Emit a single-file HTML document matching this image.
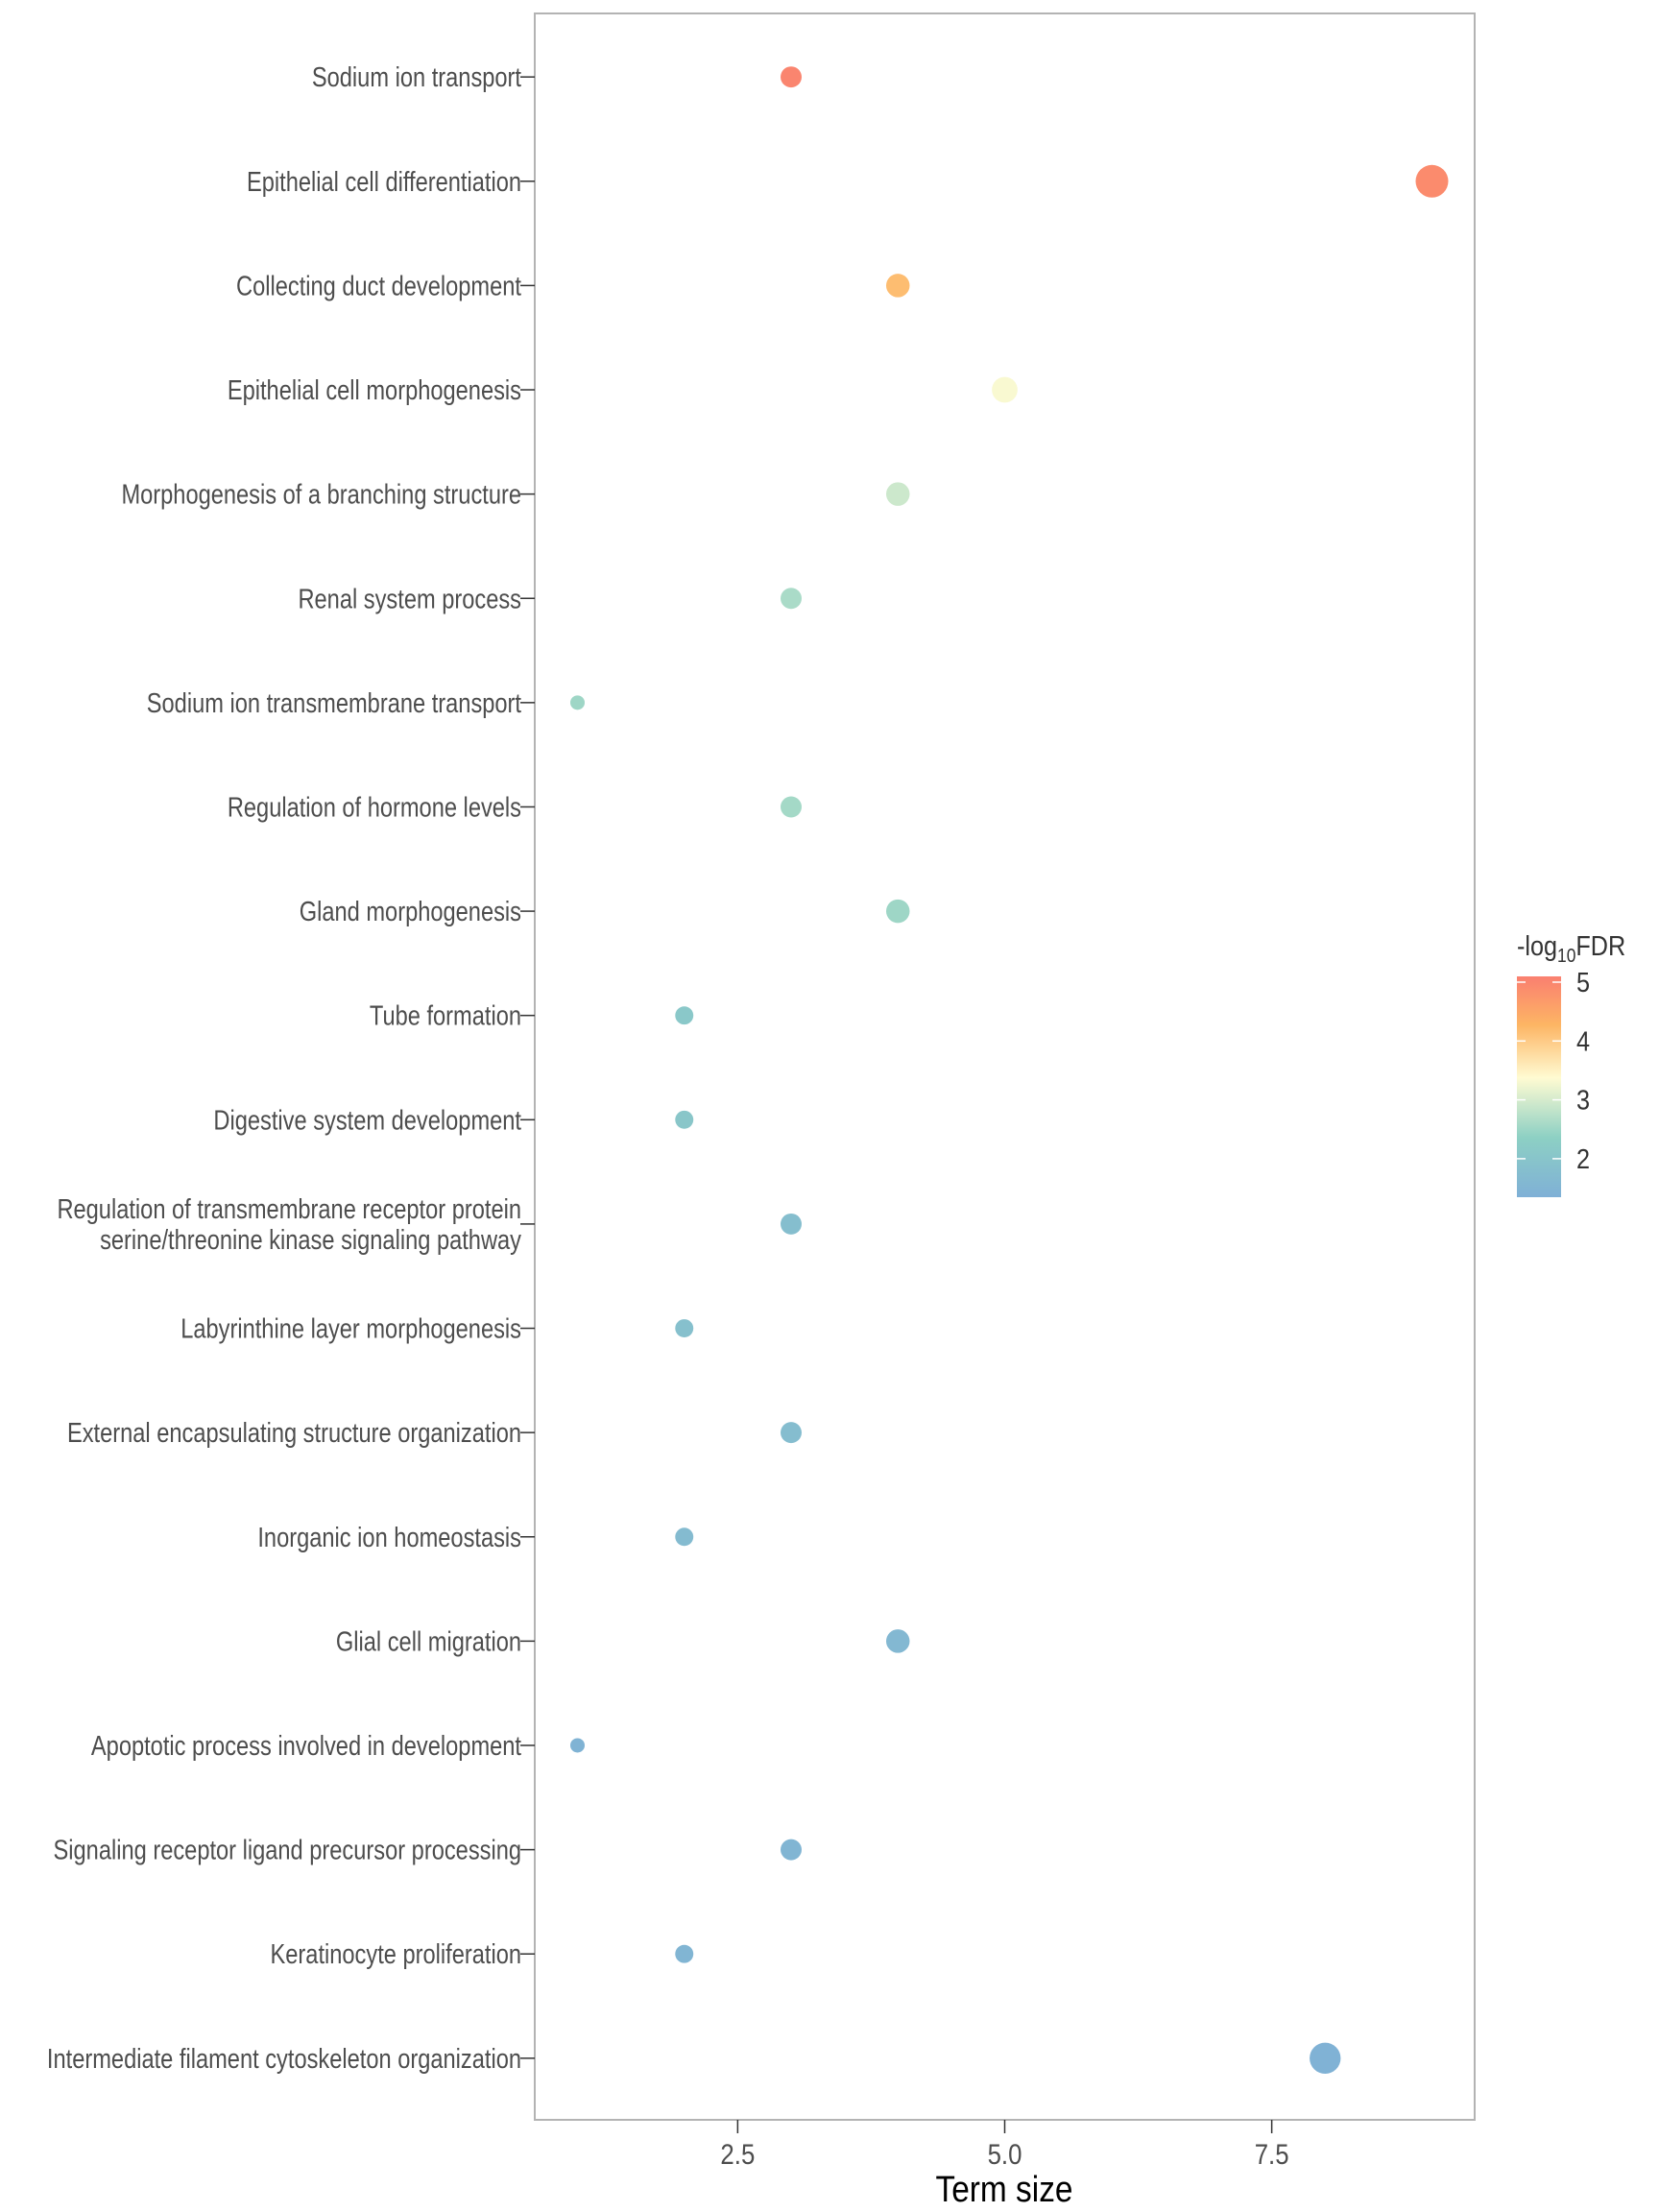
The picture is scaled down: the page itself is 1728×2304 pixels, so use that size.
<!DOCTYPE html>
<html><head><meta charset="utf-8"><style>
body{margin:0;background:#fff}
svg{display:block}
text{font-family:"Liberation Sans Narrow","Liberation Sans",sans-serif}
</style></head><body>
<svg id="chart" width="1728" height="2304" viewBox="0 0 1728 2304" xmlns="http://www.w3.org/2000/svg">
<defs>
<linearGradient id="cb" x1="0" y1="1" x2="0" y2="0">
<stop offset="0" stop-color="#7fb0d6"/>
<stop offset="0.27" stop-color="#8dd0c4"/>
<stop offset="0.54" stop-color="#fffbd2"/>
<stop offset="0.78" stop-color="#fdb564"/>
<stop offset="1" stop-color="#fa7f70"/>
</linearGradient>
</defs>
<rect x="557" y="14" width="979" height="2194" fill="#fff" stroke="#b3b3b3" stroke-width="2"/>
<g id="yaxis"></g><g id="xaxis"></g><g id="points"></g>
<text x="1046" y="2293" text-anchor="middle" font-size="38" fill="#000" transform="translate(1046 0) scale(0.88 1) translate(-1046 0)">Term size</text>
<g>
<text x="1580" y="995" font-size="29" fill="#333" transform="translate(1580 0) scale(0.87 1) translate(-1580 0)">-log<tspan font-size="20" dy="7">10</tspan><tspan dy="-7">FDR</tspan></text>
<rect x="1580" y="1017" width="46" height="230" fill="url(#cb)"/>
<g id="legticks"></g>
</g>
</svg>
<script>
const terms=["Sodium ion transport","Epithelial cell differentiation","Collecting duct development","Epithelial cell morphogenesis","Morphogenesis of a branching structure","Renal system process","Sodium ion transmembrane transport","Regulation of hormone levels","Gland morphogenesis","Tube formation","Digestive system development","Regulation of transmembrane receptor protein|serine/threonine kinase signaling pathway","Labyrinthine layer morphogenesis","External encapsulating structure organization","Inorganic ion homeostasis","Glial cell migration","Apoptotic process involved in development","Signaling receptor ligand precursor processing","Keratinocyte proliferation","Intermediate filament cytoskeleton organization"];
const termSize=[3,9,4,5,4,3,1,3,4,2,2,3,2,3,2,4,1,3,2,8];
const fdr=[5.0,4.9,4.1,3.3,2.9,2.6,2.5,2.55,2.5,2.1,2.05,1.8,1.85,1.75,1.7,1.6,1.45,1.5,1.5,1.4];
const xTicks=[2.5,5.0,7.5];
const xTickLabels=["2.5","5.0","7.5"];
const legTicks=[2,3,4,5];

const NS="http://www.w3.org/2000/svg";
function mk(t,a,p){const e=document.createElementNS(NS,t);for(const k in a)e.setAttribute(k,a[k]);p.appendChild(e);return e;}
const xMin=0.6,xMax=9.4,PL=557,PR=1536;
const xs=v=>PL+(v-xMin)/(xMax-xMin)*(PR-PL);
const PT=14,PH=2194,stepY=PH/(terms.length-1+1.2);
const ys=i=>PT+1+stepY*0.6+i*stepY;
const rs=s=>7.5+(Math.sqrt(s)-1)/2*9.5;
const cStops=[[1.35,[127,176,214]],[2.35,[141,208,196]],[3.35,[255,251,210]],[4.2,[253,181,100]],[5.1,[250,127,112]]];
function col(v){if(v<=cStops[0][0])return cStops[0][1];for(let i=1;i<cStops.length;i++){if(v<=cStops[i][0]){const a=cStops[i-1],b=cStops[i],t=(v-a[0])/(b[0]-a[0]);return a[1].map((c,j)=>Math.round(c+(b[1][j]-c)*t));}}return cStops[cStops.length-1][1];}
const ya=document.getElementById('yaxis');
terms.forEach((t,i)=>{
 const y=ys(i);
 const tk=mk('line',{x1:542,x2:557,y1:y,y2:y,stroke:'#333','stroke-width':1.5},ya);
 
 
 const g=mk('g',{transform:`translate(543 ${y}) scale(0.83 1)`},ya);
 const lines=t.split('|');
 lines.forEach((ln,k)=>{
  const tx=mk('text',{x:0,y:10+(k-(lines.length-1)/2)*32,'text-anchor':'end','font-size':28.5,fill:'#4d4d4d'},g);
  tx.textContent=ln;
  
  
 });
});
const xa=document.getElementById('xaxis');
xTicks.forEach((v,i)=>{
 const x=xs(v);
 const tk=mk('line',{x1:x,x2:x,y1:2208,y2:2222,stroke:'#333','stroke-width':1.5},xa);
 
 
 const tx=mk('text',{x:x,y:2254,'text-anchor':'middle','font-size':30,fill:'#4d4d4d',transform:`translate(${x} 0) scale(0.86 1) translate(${-x} 0)`},xa);
 tx.textContent=xTickLabels[i];
 
 
});
const pg=document.getElementById('points');
terms.forEach((t,i)=>{
 const c=col(fdr[i]);
 const p=mk('circle',{cx:xs(termSize[i]),cy:ys(i),r:rs(termSize[i]),fill:`rgb(${c.join(',')})`},pg);
 
 
});
const lt=document.getElementById('legticks');
const ly=v=>1023+(5-v)*61.3;
legTicks.forEach(v=>{
 const y=ly(v);
 mk('line',{x1:1580,x2:1589,y1:y,y2:y,stroke:'#fff','stroke-width':1.5},lt);
 mk('line',{x1:1617,x2:1626,y1:y,y2:y,stroke:'#fff','stroke-width':1.5},lt);
 const tx=mk('text',{x:1642,y:y+10,'font-size':29,fill:'#333',transform:`translate(1642 0) scale(0.87 1) translate(-1642 0)`},lt);
 tx.textContent=String(v);
 
 
});
</script>
</body></html>
